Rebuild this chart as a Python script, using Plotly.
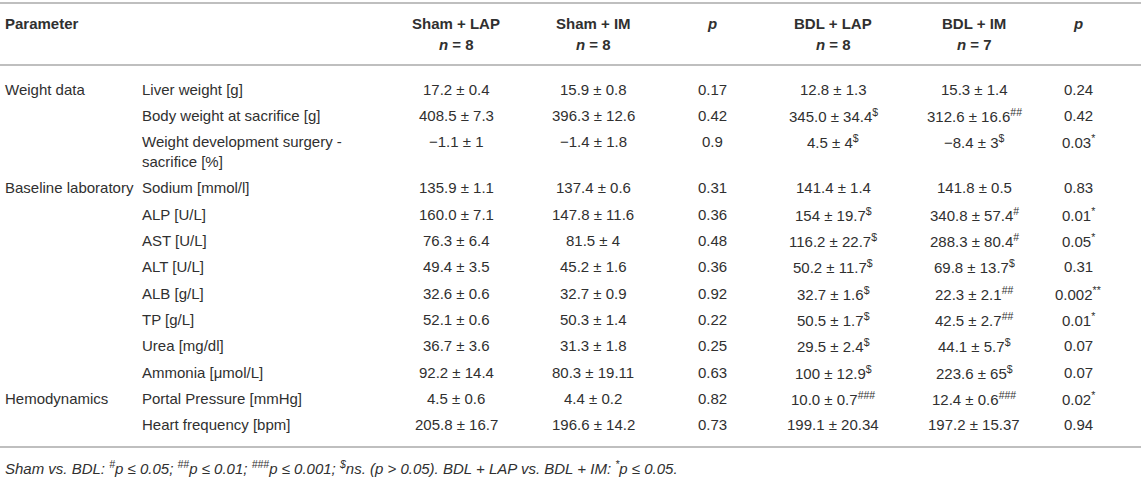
import plotly.graph_objects as go

# ---------------- data ----------------
col_headers = ["Parameter", "", "Sham + LAP", "Sham + IM", "p", "BDL + LAP", "BDL + IM", "p"]
col_n = ["", "", "8", "8", "", "8", "7", ""]

groups = ["Weight data", "", "", "Baseline laboratory", "", "", "", "", "", "", "",
          "Hemodynamics", ""]
params = ["Liver weight [g]", "Body weight at sacrifice [g]",
          "Weight development surgery -<br>sacrifice [%]",
          "Sodium [mmol/l]", "ALP [U/L]", "AST [U/L]", "ALT [U/L]", "ALB [g/L]",
          "TP [g/L]", "Urea [mg/dl]", "Ammonia [μmol/L]",
          "Portal Pressure [mmHg]", "Heart frequency [bpm]"]
sham_lap = ["17.2 ± 0.4", "408.5 ± 7.3", "−1.1 ± 1", "135.9 ± 1.1", "160.0 ± 7.1",
            "76.3 ± 6.4", "49.4 ± 3.5", "32.6 ± 0.6", "52.1 ± 0.6", "36.7 ± 3.6",
            "92.2 ± 14.4", "4.5 ± 0.6", "205.8 ± 16.7"]
sham_im = ["15.9 ± 0.8", "396.3 ± 12.6", "−1.4 ± 1.8", "137.4 ± 0.6", "147.8 ± 11.6",
           "81.5 ± 4", "45.2 ± 1.6", "32.7 ± 0.9", "50.3 ± 1.4", "31.3 ± 1.8",
           "80.3 ± 19.11", "4.4 ± 0.2", "196.6 ± 14.2"]
p_sham = ["0.17", "0.42", "0.9", "0.31", "0.36", "0.48", "0.36", "0.92", "0.22",
          "0.25", "0.63", "0.82", "0.73"]
bdl_lap = ["12.8 ± 1.3", "345.0 ± 34.4", "4.5 ± 4", "141.4 ± 1.4", "154 ± 19.7",
           "116.2 ± 22.7", "50.2 ± 11.7", "32.7 ± 1.6", "50.5 ± 1.7", "29.5 ± 2.4",
           "100 ± 12.9", "10.0 ± 0.7", "199.1 ± 20.34"]
bdl_lap_mark = ["", "$", "$", "", "$", "$", "$", "$", "$", "$", "$", "###", ""]
bdl_im = ["15.3 ± 1.4", "312.6 ± 16.6", "−8.4 ± 3", "141.8 ± 0.5", "340.8 ± 57.4",
          "288.3 ± 80.4", "69.8 ± 13.7", "22.3 ± 2.1", "42.5 ± 2.7", "44.1 ± 5.7",
          "223.6 ± 65", "12.4 ± 0.6", "197.2 ± 15.37"]
bdl_im_mark = ["", "##", "$", "", "#", "#", "$", "##", "##", "$", "$", "###", ""]
p_bdl = ["0.24", "0.42", "0.03", "0.83", "0.01", "0.05", "0.31", "0.002", "0.01",
         "0.07", "0.07", "0.02", "0.94"]
p_bdl_mark = ["", "", "*", "", "*", "*", "", "**", "*", "", "", "*", ""]

footnote = ("<i>Sham vs. BDL: <sup>#</sup>p ≤ 0.05; <sup>##</sup>p ≤ 0.01; "
            "<sup>###</sup>p ≤ 0.001; <sup>$</sup>ns. (p > 0.05). "
            "BDL + LAP vs. BDL + IM: <sup>*</sup>p ≤ 0.05.</i>")

# ---------------- layout constants ----------------
W, H = 1143, 477
FONT = "Liberation Sans, Arial, Helvetica, sans-serif"
TXT = "#303030"
RULE = "#bfbfbf"
FS = 15

x_group = 3
x_param = 140
x_centers = [456, 593, 712, 833, 974, 1078]

y_head1, y_head2 = 23, 44
y_first = 89
pitch = 26.3
inner = 20.0

# row y positions from the number of text lines in each row
row_y = []
y = y_first
for p in params:
    row_y.append(y)
    nlines = p.count("<br>") + 1
    y += pitch + (nlines - 1) * inner

fig = go.Figure()
fig.add_trace(go.Scatter(x=[0, W], y=[0, H], mode="markers",
                         marker=dict(opacity=0), hoverinfo="skip", showlegend=False))

ann = []


def add(text, x, y, anchor="left", size=FS, color=TXT):
    ann.append(dict(text=text, x=x, y=y, xref="x", yref="y", showarrow=False,
                    xanchor=anchor, yanchor="middle", align=anchor,
                    font=dict(family=FONT, size=size, color=color)))


# header
add("<b>" + col_headers[0] + "</b>", x_group, y_head1)
for i, xc in enumerate(x_centers):
    h = col_headers[i + 2]
    if h == "p":
        add("<b><i>p</i></b>", xc, y_head1, "center")
    else:
        add("<b>" + h + "</b>", xc, y_head1, "center")
        add("<b><i>n</i> = " + col_n[i + 2] + "</b>", xc, y_head2, "center")


def sup(v, m):
    return v + ("<sup>" + m + "</sup>" if m else "")


# body
for r in range(len(params)):
    yr = row_y[r]
    if groups[r]:
        add(groups[r], x_group, yr)
    for k, line in enumerate(params[r].split("<br>")):
        add(line, x_param, yr + k * inner)
    cells = [sham_lap[r], sham_im[r], p_sham[r],
             sup(bdl_lap[r], bdl_lap_mark[r]), sup(bdl_im[r], bdl_im_mark[r]),
             sup(p_bdl[r], p_bdl_mark[r])]
    for xc, c in zip(x_centers, cells):
        add(c, xc, yr, "center")

y_bottom = row_y[-1] + 22.5
add(footnote, x_group, y_bottom + 20, size=15)

shapes = []
for yl in [3, 65, y_bottom]:
    shapes.append(dict(type="line", xref="x", yref="y", x0=0, x1=1141, y0=yl, y1=yl,
                       line=dict(color=RULE, width=2)))

fig.update_layout(
    width=W, height=H, margin=dict(l=0, r=0, t=0, b=0),
    paper_bgcolor="white", plot_bgcolor="white",
    xaxis=dict(range=[0, W], visible=False, fixedrange=True),
    yaxis=dict(range=[H, 0], visible=False, fixedrange=True),
    annotations=ann, shapes=shapes, showlegend=False,
)

fig.write_html("out.html", config={"displayModeBar": False},
               post_script="document.body.style.margin='0';")
